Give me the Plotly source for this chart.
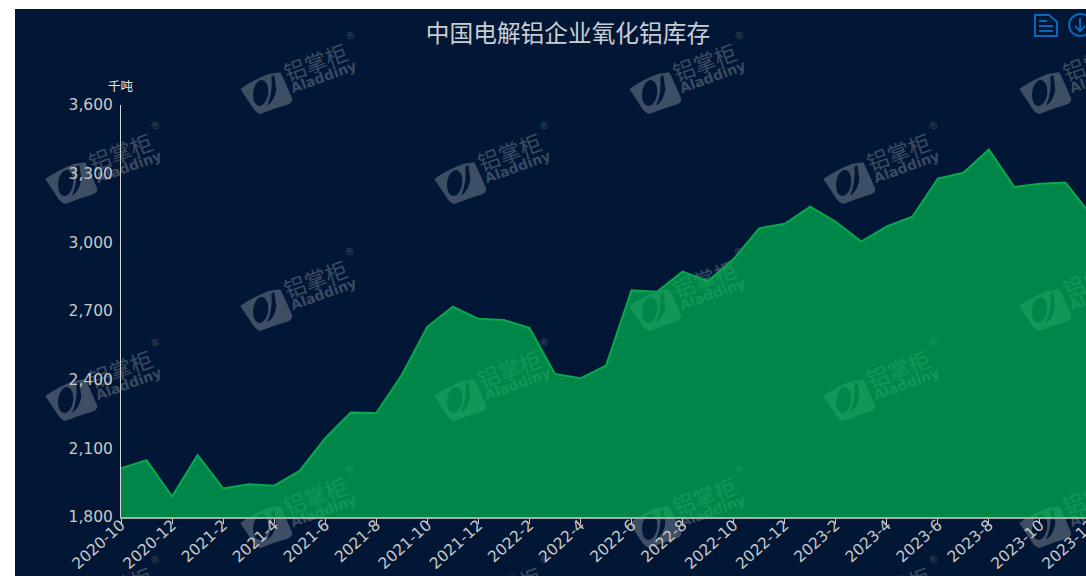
import math
import plotly.graph_objects as go

# Monthly alumina inventory held by Chinese electrolytic aluminium producers (kt)
months = [
    "2020-10", "2020-11", "2020-12", "2021-1", "2021-2", "2021-3", "2021-4", "2021-5",
    "2021-6", "2021-7", "2021-8", "2021-9", "2021-10", "2021-11", "2021-12", "2022-1",
    "2022-2", "2022-3", "2022-4", "2022-5", "2022-6", "2022-7", "2022-8", "2022-9",
    "2022-10", "2022-11", "2022-12", "2023-1", "2023-2", "2023-3", "2023-4", "2023-5",
    "2023-6", "2023-7", "2023-8", "2023-9", "2023-10", "2023-11", "2023-12",
]
inventory = [
    2013, 2048, 1889, 2071, 1925, 1943, 1937, 2001,
    2144, 2256, 2254, 2420, 2631, 2719, 2666, 2661,
    2626, 2425, 2406, 2461, 2790, 2784, 2872, 2831,
    2927, 3061, 3081, 3156, 3090, 3003, 3070, 3112,
    3278, 3304, 3406, 3242, 3256, 3261, 3119,
]
tick_months = months[::2]
title_text = "中国电解铝企业氧化铝库存"
unit_text = "千吨"

NAVY = "#021735"
LINE = "#0aa84d"
FILL = "rgba(2,182,82,0.7)"
MARK = "rgba(255,255,255,0.24)"
ICON = "#0a67b5"

FIG_W, FIG_H = 1092, 576
LEFT, RIGHT, TOP, BOTTOM = 121, 1091, 105, 517


def px(x):
    return (x - LEFT) / (RIGHT - LEFT)


def py(y):
    return (BOTTOM - y) / (BOTTOM - TOP)


def to_path(commands):
    """Turn (letter, pixel points) commands into an SVG path in paper units."""
    out = []
    for letter, pts in commands:
        out.append(letter + " ".join(f"{px(a):.5f},{py(b):.5f}" for a, b in pts))
    return " ".join(out) + " Z"


def ellipse(cx, cy, rx, ry, angle):
    k = 0.5523
    raw = [(0, -ry)], [(k * rx, -ry), (rx, -k * ry), (rx, 0)], [(rx, k * ry), (k * rx, ry), (0, ry)], \
          [(-k * rx, ry), (-rx, k * ry), (-rx, 0)], [(-rx, -k * ry), (-k * rx, -ry), (0, -ry)]
    c, s = math.cos(angle), math.sin(angle)
    cmds = []
    for i, seg in enumerate(raw):
        cmds.append(("M" if i == 0 else "C", [(cx + a * c - b * s, cy + a * s + b * c) for a, b in seg]))
    return cmds


def logo_shape(cx, cy):
    """Rounded brand mark of the watermark, centred on a pixel position."""
    def p(a, b):
        return (cx + (a - 147) / 3, cy + (b - 555) / 3)

    outer = [
        ("M", [p(70, 540)]), ("Q", [p(110, 512), p(155, 495)]), ("L", [p(190, 490)]),
        ("Q", [p(205, 520), p(226, 570)]), ("Q", [p(226, 582), p(210, 587)]),
        ("Q", [p(165, 600), p(130, 615)]), ("Q", [p(115, 612), p(100, 585)]),
    ]
    slit = [
        ("M", [p(163, 503)]), ("L", [p(172, 498)]), ("L", [p(178, 540)]),
        ("Q", [p(174, 575), p(150, 590)]), ("Q", [p(168, 550), p(163, 503)]),
    ]
    centre = p(131, 552)
    hole = ellipse(centre[0], centre[1], 7.5, 13, math.radians(8))
    path = " ".join(to_path(part) for part in (outer, slit, hole))
    return dict(type="path", xref="paper", yref="paper", path=path, fillcolor=MARK,
                line_width=0, layer="below")


logo_cols_a = [266, 655, 1045]
logo_cols_b = [71, 460, 849]
logo_rows_a = [94, 311, 528]
logo_rows_b = [184, 401, 618]
logo_centres = [(x, y) for y in logo_rows_a for x in logo_cols_a] + \
               [(x, y) for y in logo_rows_b for x in logo_cols_b]

shapes = [dict(type="rect", xref="paper", yref="paper", x0=px(15), x1=px(FIG_W),
               y0=py(FIG_H), y1=py(9), fillcolor=NAVY, line_width=0, layer="below")]
shapes += [logo_shape(x, y) for x, y in logo_centres]

# Toolbar glyphs in the top right corner: a data sheet and a download circle
sheet = to_path([("M", [(1035, 15)]), ("L", [(1049, 15)]), ("L", [(1057, 22)]),
                 ("L", [(1057, 36)]), ("L", [(1035, 36)])])
shapes.append(dict(type="path", xref="paper", yref="paper", path=sheet,
                   line=dict(color=ICON, width=2), layer="above"))
for x0, x1, y in [(1039, 1047, 21), (1039, 1053, 26), (1039, 1053, 31)]:
    shapes.append(dict(type="line", xref="paper", yref="paper", x0=px(x0), x1=px(x1),
                       y0=py(y), y1=py(y), line=dict(color=ICON, width=2), layer="above"))
shapes.append(dict(type="circle", xref="paper", yref="paper", x0=px(1069), x1=px(1092),
                   y0=py(36), y1=py(14), line=dict(color=ICON, width=2), layer="above"))
shapes.append(dict(type="path", xref="paper", yref="paper",
                   path="M%.5f,%.5f L%.5f,%.5f M%.5f,%.5f L%.5f,%.5f L%.5f,%.5f" % (
                       px(1080), py(18), px(1080), py(31),
                       px(1075), py(26), px(1080), py(31), px(1085), py(26)),
                   line=dict(color=ICON, width=2), layer="above"))

annotations = []
for x, y in logo_centres:
    annotations += [
        dict(text="铝掌柜", x=px(x + 49), y=py(y - 33), textangle=-20,
             font=dict(family="Noto Sans CJK SC", size=22, color=MARK)),
        dict(text="Aladdiny", x=px(x + 57), y=py(y - 17), textangle=-20,
             font=dict(family="DejaVu Sans", size=14, color=MARK, weight="bold")),
        dict(text="®", x=px(x + 84), y=py(y - 59), textangle=-20,
             font=dict(family="DejaVu Sans", size=10, color=MARK)),
    ]
for item in annotations:
    item.update(xref="paper", yref="paper", showarrow=False, xanchor="center", yanchor="middle")

annotations.append(dict(text=unit_text, xref="paper", yref="paper", x=px(121), y=py(86),
                        showarrow=False, xanchor="center", yanchor="middle",
                        font=dict(family="Noto Sans CJK SC", size=12.5, color="#e8e8e8")))

fig = go.Figure(go.Scatter(
    x=months, y=inventory, mode="lines", fill="tozeroy", fillcolor=FILL,
    line=dict(color=LINE, width=2), hoverinfo="x+y",
))

fig.update_layout(
    width=FIG_W, height=FIG_H,
    margin=dict(l=LEFT, r=FIG_W - RIGHT, t=TOP, b=FIG_H - BOTTOM, autoexpand=False),
    paper_bgcolor="white", plot_bgcolor="rgba(0,0,0,0)",
    showlegend=False,
    title=dict(text=title_text, xref="paper", x=px(568), xanchor="center",
               yref="container", y=1 - 34 / FIG_H, yanchor="middle",
               font=dict(family="Noto Sans CJK SC", size=23.7, color="#c9ced4")),
    shapes=shapes, annotations=annotations,
)
fig.update_xaxes(
    type="category", range=[0, len(months) - 1], tickmode="array", tickvals=tick_months,
    ticks="outside", ticklen=5, tickwidth=1, tickcolor="#cfcfcf", tickangle=-42,
    ticklabelstandoff=-14,
    tickfont=dict(family="DejaVu Sans", size=15.5, color="#c8c8c8"),
    showgrid=False, showline=True, linecolor="#a9aeaa", linewidth=2, zeroline=False,
)
fig.update_yaxes(
    range=[1800, 3600], dtick=300, tickformat=",", ticks="", showgrid=False, zeroline=False,
    ticklabelstandoff=4,
    tickfont=dict(family="DejaVu Sans", size=15.5, color="#c8c8c8"),
    showline=True, linecolor="#d8d8d8", linewidth=1,
)

# Watermark captions sit beneath the translucent area, as the logos do
post = """
document.documentElement.style.overflow = 'hidden';
document.body.style.overflow = 'hidden';
var host = document.querySelector('.plotly-graph-div');
var below = host.querySelector('.layer-below');
host.querySelectorAll('.annotation').forEach(function (node) {
  var t = node.textContent;
  if (t === '铝掌柜' || t === 'Aladdiny' || t === '®') { below.appendChild(node); }
});
"""
fig.write_html("out.html", post_script=post)
